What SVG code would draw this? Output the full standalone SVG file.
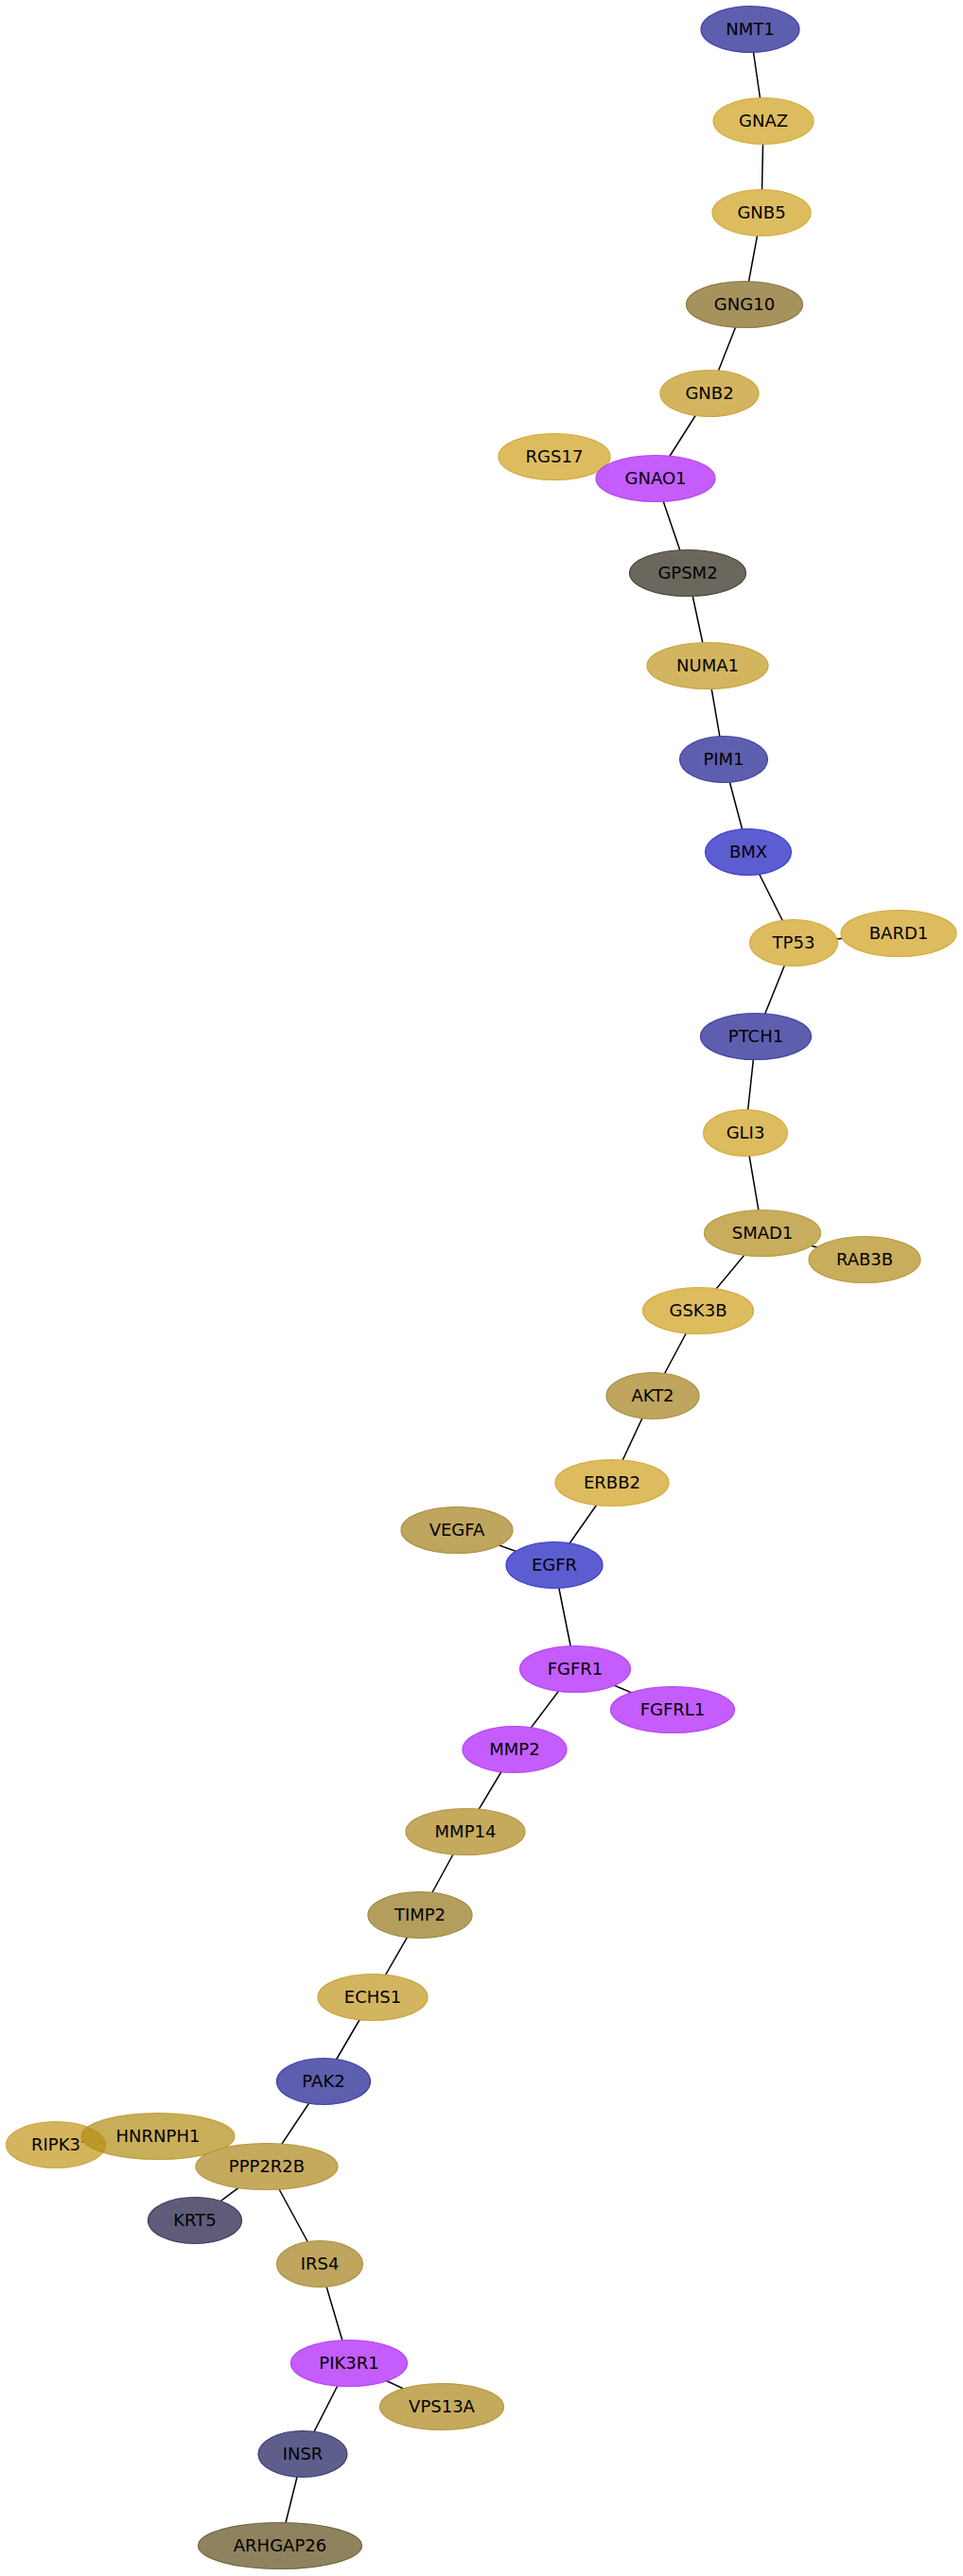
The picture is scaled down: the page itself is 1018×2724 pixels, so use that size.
<svg xmlns="http://www.w3.org/2000/svg" width="1018" height="2724" viewBox="0 0 1018 2724">
<style>
text{font-family:"DejaVu Sans","Liberation Sans",sans-serif;font-size:18px;fill:#000;text-anchor:middle}
ellipse{stroke-width:1.2}
#edges line{stroke:#000;stroke-width:1.5}
.b1{fill:#5e5eae;stroke:#4040a8}
.b2{fill:#5d5dd2;stroke:#3d3dc8}
.pu{fill:#c45dfc;stroke:#b544f5}
.g1{fill:#ddbc5f;stroke:#d4aa3c}
.g2{fill:#d4b55f;stroke:#c9a33e}
.g3{fill:#c8ad5d;stroke:#b99b40}
.g4{fill:#bfa55e;stroke:#ad9142}
.g5{fill:#c5aa5e;stroke:#b59840}
.gg{fill:#a6925d;stroke:#8f7a45}
.gp{fill:#6b675c;stroke:#4d493f}
.ti{fill:#b39e5e;stroke:#a08a45}
.kr{fill:#5e5c78;stroke:#3e3c5c}
.in{fill:#5e5e8c;stroke:#3e3e78}
.ar{fill:#8f825e;stroke:#74663e}
.tr1{fill:#c29519;fill-opacity:0.7;stroke:#c29519;stroke-opacity:0.7}
.tr2{fill:#b28b13;fill-opacity:0.7;stroke:#b28b13;stroke-opacity:0.7}
</style>
<rect width="1018" height="2724" fill="#fff"/>
<g id="edges">
<line x1="793" y1="31" x2="807" y2="128"/>
<line x1="807" y1="128" x2="805" y2="225"/>
<line x1="805" y1="225" x2="787" y2="322"/>
<line x1="787" y1="322" x2="750" y2="416"/>
<line x1="750" y1="416" x2="693" y2="506"/>
<line x1="586" y1="483" x2="693" y2="506"/>
<line x1="693" y1="506" x2="727" y2="606"/>
<line x1="727" y1="606" x2="748" y2="704"/>
<line x1="748" y1="704" x2="765" y2="803"/>
<line x1="765" y1="803" x2="791" y2="901"/>
<line x1="791" y1="901" x2="839" y2="997"/>
<line x1="839" y1="997" x2="950" y2="987"/>
<line x1="839" y1="997" x2="799" y2="1096"/>
<line x1="799" y1="1096" x2="788" y2="1198"/>
<line x1="788" y1="1198" x2="806" y2="1304"/>
<line x1="806" y1="1304" x2="914" y2="1332"/>
<line x1="806" y1="1304" x2="738" y2="1386"/>
<line x1="738" y1="1386" x2="690" y2="1476"/>
<line x1="690" y1="1476" x2="647" y2="1568"/>
<line x1="647" y1="1568" x2="586" y2="1655"/>
<line x1="483" y1="1618" x2="586" y2="1655"/>
<line x1="586" y1="1655" x2="608" y2="1765"/>
<line x1="608" y1="1765" x2="711" y2="1808"/>
<line x1="608" y1="1765" x2="544" y2="1850"/>
<line x1="544" y1="1850" x2="492" y2="1937"/>
<line x1="492" y1="1937" x2="444" y2="2025"/>
<line x1="444" y1="2025" x2="394" y2="2112"/>
<line x1="394" y1="2112" x2="342" y2="2201"/>
<line x1="342" y1="2201" x2="282" y2="2291"/>
<line x1="226.5" y1="2275.5" x2="282" y2="2291"/>
<line x1="86" y1="2265" x2="89" y2="2265"/>
<line x1="282" y1="2291" x2="206" y2="2348"/>
<line x1="282" y1="2291" x2="338" y2="2394"/>
<line x1="338" y1="2394" x2="369" y2="2499"/>
<line x1="369" y1="2499" x2="467" y2="2545"/>
<line x1="369" y1="2499" x2="320" y2="2595"/>
<line x1="320" y1="2595" x2="296" y2="2692"/>
</g>
<g id="NMT1"><ellipse class="b1" cx="793" cy="31" rx="52" ry="24.5"/><text x="793" y="37">NMT1</text></g>
<g id="GNAZ"><ellipse class="g1" cx="807" cy="128" rx="53" ry="24.5"/><text x="807" y="134">GNAZ</text></g>
<g id="GNB5"><ellipse class="g1" cx="805" cy="225" rx="52" ry="24.5"/><text x="805" y="231">GNB5</text></g>
<g id="GNG10"><ellipse class="gg" cx="787" cy="322" rx="61.5" ry="24.5"/><text x="787" y="328">GNG10</text></g>
<g id="GNB2"><ellipse class="g2" cx="750" cy="416" rx="52" ry="24.5"/><text x="750" y="422">GNB2</text></g>
<g id="RGS17"><ellipse class="g1" cx="586" cy="483" rx="59" ry="24.5"/><text x="586" y="489">RGS17</text></g>
<g id="GNAO1"><ellipse class="pu" cx="693" cy="506" rx="63" ry="24.5"/><text x="693" y="512">GNAO1</text></g>
<g id="GPSM2"><ellipse class="gp" cx="727" cy="606" rx="61.5" ry="24.5"/><text x="727" y="612">GPSM2</text></g>
<g id="NUMA1"><ellipse class="g2" cx="748" cy="704" rx="64" ry="24.5"/><text x="748" y="710">NUMA1</text></g>
<g id="PIM1"><ellipse class="b1" cx="765" cy="803" rx="46.5" ry="24.5"/><text x="765" y="809">PIM1</text></g>
<g id="BMX"><ellipse class="b2" cx="791" cy="901" rx="45.5" ry="24.5"/><text x="791" y="907">BMX</text></g>
<g id="TP53"><ellipse class="g1" cx="839" cy="997" rx="46.5" ry="24.5"/><text x="839" y="1003">TP53</text></g>
<g id="BARD1"><ellipse class="g1" cx="950" cy="987" rx="61" ry="24.5"/><text x="950" y="993">BARD1</text></g>
<g id="PTCH1"><ellipse class="b1" cx="799" cy="1096" rx="58.5" ry="24.5"/><text x="799" y="1102">PTCH1</text></g>
<g id="GLI3"><ellipse class="g1" cx="788" cy="1198" rx="44.5" ry="24.5"/><text x="788" y="1204">GLI3</text></g>
<g id="SMAD1"><ellipse class="g3" cx="806" cy="1304" rx="61.5" ry="24.5"/><text x="806" y="1310">SMAD1</text></g>
<g id="RAB3B"><ellipse class="g3" cx="914" cy="1332" rx="59" ry="24.5"/><text x="914" y="1338">RAB3B</text></g>
<g id="GSK3B"><ellipse class="g1" cx="738" cy="1386" rx="58.5" ry="24.5"/><text x="738" y="1392">GSK3B</text></g>
<g id="AKT2"><ellipse class="g4" cx="690" cy="1476" rx="49" ry="24.5"/><text x="690" y="1482">AKT2</text></g>
<g id="ERBB2"><ellipse class="g1" cx="647" cy="1568" rx="60" ry="24.5"/><text x="647" y="1574">ERBB2</text></g>
<g id="VEGFA"><ellipse class="g4" cx="483" cy="1618" rx="59" ry="24.5"/><text x="483" y="1624">VEGFA</text></g>
<g id="EGFR"><ellipse class="b2" cx="586" cy="1655" rx="51" ry="24.5"/><text x="586" y="1661">EGFR</text></g>
<g id="FGFR1"><ellipse class="pu" cx="608" cy="1765" rx="58.5" ry="24.5"/><text x="608" y="1771">FGFR1</text></g>
<g id="FGFRL1"><ellipse class="pu" cx="711" cy="1808" rx="65.5" ry="24.5"/><text x="711" y="1814">FGFRL1</text></g>
<g id="MMP2"><ellipse class="pu" cx="544" cy="1850" rx="55" ry="24.5"/><text x="544" y="1856">MMP2</text></g>
<g id="MMP14"><ellipse class="g5" cx="492" cy="1937" rx="63" ry="24.5"/><text x="492" y="1943">MMP14</text></g>
<g id="TIMP2"><ellipse class="ti" cx="444" cy="2025" rx="55" ry="24.5"/><text x="444" y="2031">TIMP2</text></g>
<g id="ECHS1"><ellipse class="g2" cx="394" cy="2112" rx="58" ry="24.5"/><text x="394" y="2118">ECHS1</text></g>
<g id="PAK2"><ellipse class="b1" cx="342" cy="2201" rx="49.5" ry="24.5"/><text x="342" y="2207">PAK2</text></g>
<g id="RIPK3"><ellipse class="tr1" cx="59" cy="2268" rx="52.5" ry="24.5"/><text x="59" y="2274">RIPK3</text></g>
<g id="HNRNPH1"><ellipse class="tr2" cx="167" cy="2259" rx="81" ry="24.5"/><text x="167" y="2265">HNRNPH1</text></g>
<g id="PPP2R2B"><ellipse class="g5" cx="282" cy="2291" rx="75" ry="24.5"/><text x="282" y="2297">PPP2R2B</text></g>
<g id="KRT5"><ellipse class="kr" cx="206" cy="2348" rx="49.5" ry="24.5"/><text x="206" y="2354">KRT5</text></g>
<g id="IRS4"><ellipse class="g4" cx="338" cy="2394" rx="45.5" ry="24.5"/><text x="338" y="2400">IRS4</text></g>
<g id="PIK3R1"><ellipse class="pu" cx="369" cy="2499" rx="61.5" ry="24.5"/><text x="369" y="2505">PIK3R1</text></g>
<g id="VPS13A"><ellipse class="g5" cx="467" cy="2545" rx="65.5" ry="24.5"/><text x="467" y="2551">VPS13A</text></g>
<g id="INSR"><ellipse class="in" cx="320" cy="2595" rx="47" ry="24.5"/><text x="320" y="2601">INSR</text></g>
<g id="ARHGAP26"><ellipse class="ar" cx="296" cy="2692" rx="86.5" ry="24.5"/><text x="296" y="2698">ARHGAP26</text></g>
</svg>
